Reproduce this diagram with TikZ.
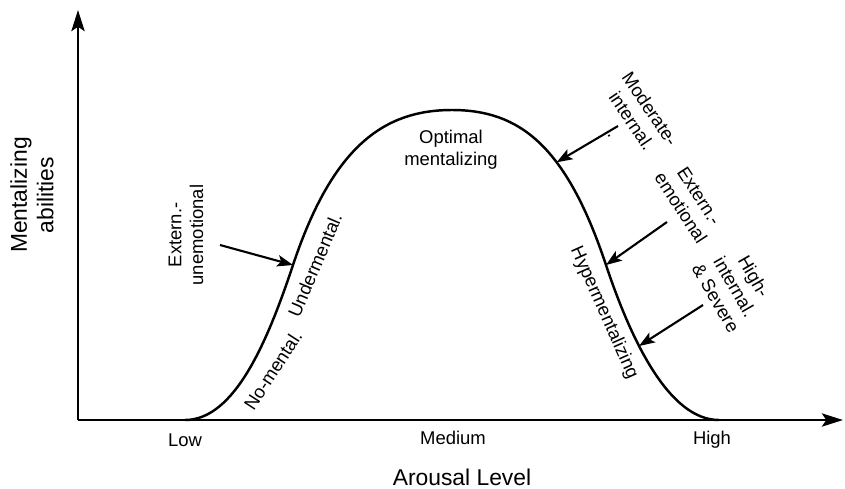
\documentclass[tikz,border=0pt]{standalone}
\usepackage{fontspec}
\setmainfont{Liberation Sans}
\usetikzlibrary{arrows.meta}

\begin{document}
\begin{tikzpicture}[x=0.02cm,y=-0.02cm,
    axis/.style={line width=1.6pt,-{Stealth[length=12pt,width=7.5pt,inset=2.5pt]}},
    pointer/.style={line width=1.2pt,-{Stealth[length=9pt,width=6.5pt,inset=2pt]}},
    note/.style={font=\fontsize{10.5}{12.5}\selectfont,align=center,inner sep=0pt},
    axislabel/.style={font=\fontsize{13}{15}\selectfont,align=center,inner sep=0pt}]
    \useasboundingbox (0,0) rectangle (845,488);

    \coordinate (origin) at (78,420);
    \coordinate (ytop) at (78,10);
    \coordinate (xend) at (843,420);
    \draw[axis] (origin) -- (ytop);
    \draw[axis] (origin) -- (xend);

    \draw[line width=1.4pt] (185,420) .. controls (235,420) and (268,340) .. (293,265) coordinate (under)
        .. controls (333,145) and (385,110) .. (452,110)
        .. controls (519,110) and (566,145) .. coordinate[pos=0.62] (moder) (606,265) coordinate (hyperup)
        .. controls (631,340) and (669,420) .. coordinate[pos=0.37] (hyperlow) (719,420);

    \node[axislabel,rotate=90] (ytitle) at (32,195) {Mentalizing\\abilities};
    \node[axislabel] (xtitle) at (462,477) {Arousal Level};
    \node[note] (low) at (185,440) {Low};
    \node[note] (medium) at (453,438) {Medium};
    \node[note] (high) at (712,440) {High};

    \node[note] (optimal) at (451,150) {Optimal\\mentalizing};
    \node[note,rotate=57] (nomental) at (273,370) {No-mental.};
    \node[note,rotate=67] (undermental) at (315,265) {Undermental.};
    \node[note,rotate=-66] (hyper) at (604,313) {Hypermentalizing};

    \node[note,rotate=90] (externun) at (186,235) {Extern.-\\unemotional};
    \node[note,rotate=-56] (moderate) at (632,121) {Moderate-\\internal.\\.};
    \node[note,rotate=-57] (externemo) at (690,202) {Extern.-\\emotional};
    \node[note,rotate=-60] (highint) at (735,287) {High-\\internal.\\\& Severe};

    \coordinate (externunstart) at (220,245);
    \coordinate (moderatestart) at (618,126);
    \coordinate (externemostart) at (667,222);
    \coordinate (highintstart) at (703,305);
    \draw[pointer] (externunstart) -- (under);
    \draw[pointer] (moderatestart) -- (moder);
    \draw[pointer] (externemostart) -- (hyperup);
    \draw[pointer] (highintstart) -- (hyperlow);
\end{tikzpicture}
\end{document}
